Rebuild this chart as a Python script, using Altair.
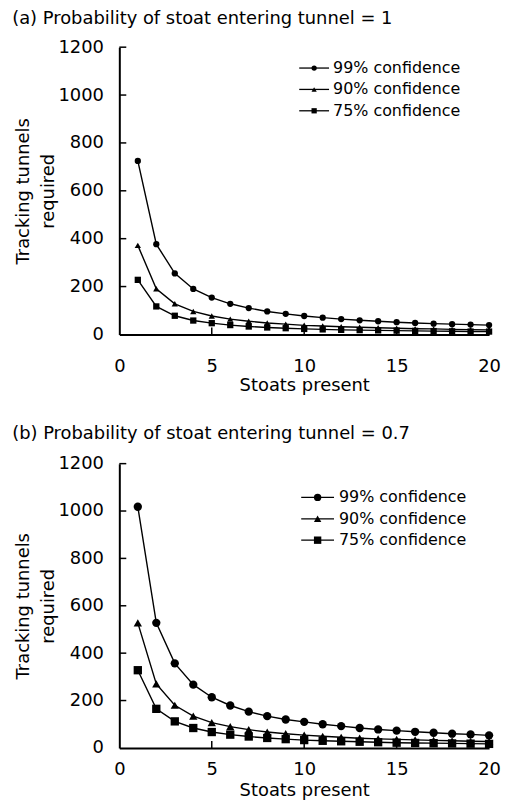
import altair as alt
import pandas as pd

FONT = "DejaVu Sans"
stoats = list(range(1, 21))
series = ["99% confidence", "90% confidence", "75% confidence"]
shapes = ["circle", "triangle-up", "square"]

a_99 = [725, 377, 255, 190, 154, 128, 110, 96, 86, 77, 70, 64, 59, 55, 51, 48, 45, 43, 41, 39]
a_90 = [372, 191, 128, 96, 77, 64, 55, 48, 43, 38, 35, 32, 30, 28, 26, 24, 23, 21, 20, 19]
a_75 = [228, 117, 78, 58, 47, 39, 33, 29, 26, 23, 21, 19, 18, 17, 16, 15, 14, 13, 12, 12]

b_99 = [1018, 528, 357, 267, 214, 179, 153, 134, 120, 110, 100, 92, 84, 78, 73, 68, 64, 60, 57, 53]
b_90 = [528, 270, 180, 134, 107, 90, 77, 67, 60, 54, 49, 45, 41, 38, 36, 34, 32, 30, 28, 27]
b_75 = [328, 165, 112, 84, 67, 56, 48, 42, 37, 33, 30, 28, 26, 24, 22, 21, 20, 19, 18, 17]

x_ticks = [5, 10, 15, 20]
y_ticks = [200, 400, 600, 800, 1000, 1200]

W = 372


def panel(title, v99, v90, v75, H, lab_pad, tit_pad, t_off,
          leg_top, leg_bottom, leg_x0, leg_x1, leg_tx, msize, lsize):
    rows = []
    for s, vals in zip(series, [v99, v90, v75]):
        for n, v in zip(stoats, vals):
            rows.append({"stoats": n, "value": v, "series": s})
    df = pd.DataFrame(rows)

    xs = alt.Scale(domain=[0, 20], nice=False)
    ys = alt.Scale(domain=[0, 1200], nice=False)
    shape_scale = alt.Scale(domain=series, range=shapes)

    x_enc = alt.X("stoats:Q", scale=xs, title="Stoats present",
                  axis=alt.Axis(values=[0, 5, 10, 15, 20], ticks=False, labelPadding=lab_pad,
                                titlePadding=tit_pad, grid=False, format="d"))
    y_enc = alt.Y("value:Q", scale=ys, title=["Tracking tunnels", "required"],
                  axis=alt.Axis(values=[0, 200, 400, 600, 800, 1000, 1200], ticks=False,
                                labelPadding=16, titlePadding=0, grid=False, format="d"))

    base = alt.Chart(df)
    lines = base.mark_line(color="black", strokeWidth=1.4).encode(
        x=x_enc, y=y_enc, detail="series:N")
    pts = base.mark_point(filled=True, color="black", opacity=1, size=msize).encode(
        x=alt.X("stoats:Q", scale=xs), y=alt.Y("value:Q", scale=ys),
        shape=alt.Shape("series:N", scale=shape_scale, legend=None))
    xt = alt.Chart(pd.DataFrame({"t": x_ticks})).mark_rule(color="black", strokeWidth=1.5).encode(
        x=alt.X("t:Q", scale=xs), y=alt.value(H), y2=alt.value(H - 7))
    yt = alt.Chart(pd.DataFrame({"t": y_ticks})).mark_rule(color="black", strokeWidth=1.5).encode(
        y=alt.Y("t:Q", scale=ys), x=alt.value(0), x2=alt.value(7))
    main = alt.layer(lines, pts, xt, yt)

    ldf = pd.DataFrame({"series": series})
    ly = alt.Y("series:N", scale=alt.Scale(type="point", domain=series,
                                            range=[leg_top, leg_bottom], padding=0), axis=None)
    lrule = alt.Chart(ldf).mark_rule(color="black", strokeWidth=1.3).encode(
        y=ly, x=alt.value(leg_x0), x2=alt.value(leg_x1))
    lpts = alt.Chart(ldf).mark_point(filled=True, color="black", opacity=1, size=lsize).encode(
        y=ly, x=alt.value((leg_x0 + leg_x1) / 2),
        shape=alt.Shape("series:N", scale=shape_scale, legend=None))
    ltxt = alt.Chart(ldf).mark_text(align="left", baseline="middle", font=FONT,
                                     fontSize=16, color="black").encode(
        y=ly, x=alt.value(leg_tx), text="series:N")
    legend = alt.layer(lrule, lpts, ltxt)

    return alt.layer(main, legend).resolve_scale(y="independent").properties(
        width=W, height=H,
        title=alt.TitleParams(title, anchor="start", frame="bounds", fontSize=18,
                              font=FONT, fontWeight="normal", offset=t_off, dx=-2))


pa = panel("(a) Probability of stoat entering tunnel = 1", a_99, a_90, a_75, 289,
           23, 1, 10, 21, 64, 181, 211, 215, 40, 28)
pb = panel("(b) Probability of stoat entering tunnel = 0.7", b_99, b_90, b_75, 286,
           13, 3, 12, 34, 77, 183, 216, 221, 70, 55)

chart = alt.vconcat(pa, pb, spacing=31).properties(
    padding={"left": 4, "top": 0, "right": 0, "bottom": 0}).configure_view(
    stroke=None).configure_axis(
    labelFont=FONT, titleFont=FONT, labelFontSize=18, titleFontSize=18,
    titleFontWeight="normal", labelColor="black", titleColor="black",
    domainColor="black", domainWidth=2, labelFlush=False, titleLineHeight=26
)

chart.save("out.html", embed_options={"renderer": "svg", "actions": False})
